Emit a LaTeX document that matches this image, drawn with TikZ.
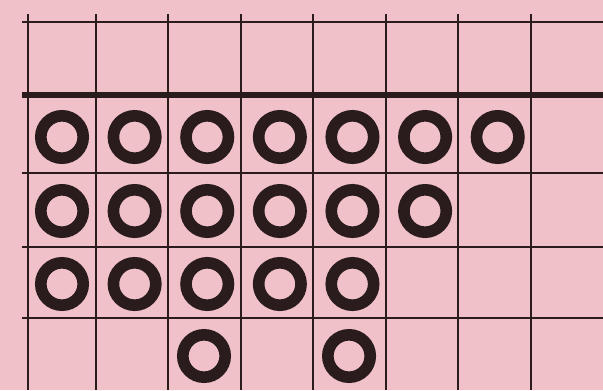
\documentclass[tikz,border=0pt]{standalone}
\usepackage{xcolor}
\usepackage{tikz}
\usetikzlibrary{positioning}
\definecolor{cpaper}{HTML}{F1C1CA}
\definecolor{cink}{HTML}{2A1C1C}

\begin{document}
\begin{tikzpicture}[
  x=0.025cm, y=-0.025cm,
  ring/.style={circle, draw=cink, line width=0.29cm, minimum size=1.06cm, inner sep=0pt, outer sep=0pt},
  gridln/.style={draw=cink, line width=0.05cm},
  baseln/.style={draw=cink, line width=0.13cm},
]
\fill[cpaper] (0,0) rectangle (603,390);
\useasboundingbox (0,0) rectangle (603,390);
% ---------- grid ----------
\draw[gridln] (22,22) -- (603,22);
\draw[baseln] (22,95) -- (603,95);
\draw[gridln] (22,173) -- (603,173);
\draw[gridln] (22,247) -- (603,247);
\draw[gridln] (22,318) -- (603,318);
\draw[gridln] (28,14) -- (28,390);
\draw[gridln] (96,14) -- (96,390);
\draw[gridln] (168,14) -- (168,390);
\draw[gridln] (241,14) -- (241,390);
\draw[gridln] (313,14) -- (313,390);
\draw[gridln] (386,14) -- (386,390);
\draw[gridln] (458,14) -- (458,390);
\draw[gridln] (531,14) -- (531,390);
% ---------- row 1 ----------
\node[ring] (r1c1) at (62,137) {};
\node[ring, right=0.755cm of r1c1] (r1c2) {};
\node[ring, right=0.755cm of r1c2] (r1c3) {};
\node[ring, right=0.755cm of r1c3] (r1c4) {};
\node[ring, right=0.755cm of r1c4] (r1c5) {};
\node[ring, right=0.755cm of r1c5] (r1c6) {};
\node[ring, right=0.755cm of r1c6] (r1c7) {};
% ---------- row 2 ----------
\node[ring] (r2c1) at (62,211) {};
\node[ring, right=0.755cm of r2c1] (r2c2) {};
\node[ring, right=0.755cm of r2c2] (r2c3) {};
\node[ring, right=0.755cm of r2c3] (r2c4) {};
\node[ring, right=0.755cm of r2c4] (r2c5) {};
\node[ring, right=0.755cm of r2c5] (r2c6) {};
% ---------- row 3 ----------
\node[ring] (r3c1) at (62,284) {};
\node[ring, right=0.755cm of r3c1] (r3c2) {};
\node[ring, right=0.755cm of r3c2] (r3c3) {};
\node[ring, right=0.755cm of r3c3] (r3c4) {};
\node[ring, right=0.755cm of r3c4] (r3c5) {};
% ---------- row 4 ----------
\node[ring] (r4c3) at (204,356) {};
\node[ring, right=2.565cm of r4c3] (r4c5) {};
\end{tikzpicture}
\end{document}
